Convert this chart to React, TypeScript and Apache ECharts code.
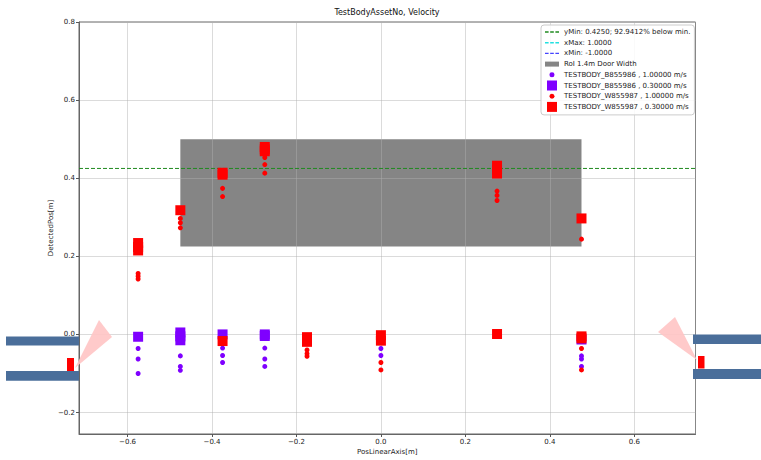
import React, { useEffect, useRef } from "react";
import * as echarts from "echarts";

const FONT = "DejaVu Sans";

// axis ranges
const xRange: [number, number] = [-0.715, 0.745];
const yRange: [number, number] = [-0.255, 0.8];

// reference lines / region
const yMinLine = 0.425;
const xMaxLine = 1.0;
const xMinLine = -1.0;
const roiX: [number, number] = [-0.475, 0.475];
const roiY: [number, number] = [0.225, 0.5];

// scatter data [pos, detected]
const purpleDots: [number, number][] = [
  [-0.575, -0.036], [-0.575, -0.063], [-0.575, -0.1],
  [-0.475, -0.055], [-0.475, -0.082], [-0.475, -0.092],
  [-0.375, -0.035], [-0.375, -0.054], [-0.375, -0.072],
  [-0.275, -0.035], [-0.275, -0.063], [-0.275, -0.082],
  [0.0, -0.036], [0.0, -0.054],
  [0.475, -0.055], [0.475, -0.063], [0.475, -0.082],
];
const purpleSquares: [number, number][] = [
  [-0.575, -0.006],
  [-0.475, 0.005], [-0.475, -0.005], [-0.475, -0.015],
  [-0.375, 0.0],
  [-0.275, 0.0], [-0.275, -0.004],
  [0.475, -0.013],
];
const redDots: [number, number][] = [
  [-0.575, 0.156], [-0.575, 0.149], [-0.575, 0.142],
  [-0.475, 0.297], [-0.475, 0.286], [-0.475, 0.273],
  [-0.375, 0.374], [-0.375, 0.353],
  [-0.275, 0.453], [-0.275, 0.435], [-0.275, 0.413],
  [-0.175, -0.04], [-0.175, -0.049], [-0.175, -0.056],
  [0.0, -0.072], [0.0, -0.091],
  [0.275, 0.367], [0.275, 0.356], [0.275, 0.343],
  [0.475, 0.244], [0.475, -0.036], [0.475, -0.091],
];
const redSquares: [number, number][] = [
  [-0.575, 0.234], [-0.575, 0.224], [-0.575, 0.215],
  [-0.475, 0.318],
  [-0.375, 0.414], [-0.375, 0.409], [-0.375, -0.017],
  [-0.275, 0.48], [-0.275, 0.474], [-0.275, 0.469],
  [-0.175, -0.007], [-0.175, -0.019],
  [0.0, -0.002], [0.0, -0.016],
  [0.275, 0.432], [0.275, 0.422], [0.275, 0.412], [0.275, 0.001],
  [0.475, 0.297], [0.475, -0.005], [0.475, -0.01],
];

const legendNames = [
  "yMin: 0.4250; 92.9412% below min.",
  "xMax: 1.0000",
  "xMin: -1.0000",
  "RoI 1.4m Door Width",
  "TESTBODY_B855986 , 1.00000 m/s",
  "TESTBODY_B855986 , 0.30000 m/s",
  "TESTBODY_W855987 , 1.00000 m/s",
  "TESTBODY_W855987 , 0.30000 m/s",
];

const titleText = "TestBodyAssetNo, Velocity";
const xName = "PosLinearAxis[m]";
const yName = "DetectedPos[m]";

const GREEN = "#1f8a1f";
const CYAN = "#22e0e0";
const BLUE = "#4444ff";
const GRAY = "#858585";
const PURPLE = "#7f00ff";
const RED = "#ff0000";

const ICON_DASH = "path://M0 0M14 10M0 4.3H3.6V5.7H0ZM5.2 4.3H8.8V5.7H5.2ZM10.4 4.3H14V5.7H10.4Z";
const ICON_PATCH = "path://M0 0M14 10M0 2.5H14V7.5H0Z";
const ICON_DOT = "path://M0 0M14 10M4.5 5A2.5 2.5 0 1 0 9.5 5A2.5 2.5 0 1 0 4.5 5Z";
const ICON_SQUARE = "path://M0 0M14 10M2 0H12V10H2Z";
const legendIcons = [ICON_DASH, ICON_DASH, ICON_DASH, ICON_PATCH, ICON_DOT, ICON_SQUARE, ICON_DOT, ICON_SQUARE];

const fmt = (v: number) => (v < 0 ? "\u2212" + Math.abs(v).toFixed(1) : v.toFixed(1));

export default function App() {
  const ref = useRef<HTMLDivElement>(null);
  useEffect(() => {
    if (!ref.current) return;
    const chart = echarts.init(ref.current, null, { renderer: "svg" });
    const axisCommon = {
      z: 2,
      axisLine: { show: true, onZero: false, lineStyle: { color: "#666", width: 1 } },
      axisTick: { show: true, length: 3, lineStyle: { color: "#555", width: 1 } },
      splitLine: { show: true, lineStyle: { color: "rgba(176,176,176,0.45)", width: 1 } },
      axisLabel: {
        fontSize: 7, fontFamily: FONT, color: "#222", margin: 4,
        showMinLabel: false, showMaxLabel: false, formatter: fmt,
      },
      nameTextStyle: { fontSize: 7, fontFamily: FONT, color: "#222" },
      nameLocation: "middle" as const,
      nameMoveOverlap: false,
    };
    const option: any = {
      animation: false,
      backgroundColor: "#fff",
      textStyle: { fontFamily: FONT },
      title: {
        text: titleText, left: 387, top: 8, textAlign: "center", padding: 0,
        textStyle: { fontSize: 8, fontWeight: "normal", fontFamily: FONT, color: "#111" },
      },
      grid: {
        left: 79, top: 22, right: 761 - 695.5, bottom: 22,
        show: true, borderColor: "#666", borderWidth: 1, backgroundColor: "transparent",
      },
      xAxis: {
        ...axisCommon, type: "value", min: xRange[0], max: xRange[1], splitNumber: 7,
        name: xName, nameGap: 14,
      },
      yAxis: {
        ...axisCommon, type: "value", min: yRange[0], max: yRange[1], splitNumber: 5,
        name: yName, nameGap: 25,
        axisLabel: { ...axisCommon.axisLabel, showMaxLabel: true },
      },
      legend: {
        orient: "vertical", left: 541, top: 25, padding: [2, 4, 3, 4],
        itemWidth: 14, itemHeight: 10, itemGap: 0.7,
        borderColor: "#cccccc", borderWidth: 1, borderRadius: 3,
        backgroundColor: "rgba(255,255,255,0.85)",
        textStyle: { fontSize: 7, fontFamily: FONT, color: "#222" },
        itemStyle: { borderWidth: 0, opacity: 1 },
        selectedMode: false,
        data: legendNames.map((name, i) => ({ name, icon: legendIcons[i] })),
      },
      series: [
        {
          name: legendNames[0], type: "line", z: 3, showSymbol: false, color: GREEN,
          itemStyle: { color: GREEN },
          lineStyle: { color: GREEN, width: 1, type: [4, 2] },
          data: [[xRange[0], yMinLine], [xRange[1], yMinLine]],
        },
        {
          name: legendNames[1], type: "line", z: 3, showSymbol: false, clip: true, color: CYAN,
          itemStyle: { color: CYAN },
          lineStyle: { color: CYAN, width: 1, type: [4, 2] },
          data: [[xMaxLine, yRange[0]], [xMaxLine, yRange[1]]],
        },
        {
          name: legendNames[2], type: "line", z: 3, showSymbol: false, clip: true, color: BLUE,
          itemStyle: { color: BLUE },
          lineStyle: { color: BLUE, width: 1, type: [4, 2] },
          data: [[xMinLine, yRange[0]], [xMinLine, yRange[1]]],
        },
        {
          name: legendNames[3], type: "custom", z: 1, color: GRAY,
          itemStyle: { color: GRAY },
          encode: { x: [0, 2], y: [1, 3] },
          data: [[roiX[0], roiY[0], roiX[1], roiY[1]]],
          renderItem: (params: any, api: any) => {
            const p0 = api.coord([api.value(0), api.value(3)]);
            const p1 = api.coord([api.value(2), api.value(1)]);
            return {
              type: "rect",
              shape: { x: p0[0], y: p0[1], width: p1[0] - p0[0], height: p1[1] - p0[1] },
              style: { fill: GRAY },
            };
          },
        },
        {
          name: legendNames[4], type: "scatter", z: 4, symbol: "circle", symbolSize: 5,
          color: PURPLE, itemStyle: { color: PURPLE, opacity: 1 }, data: purpleDots,
        },
        {
          name: legendNames[5], type: "scatter", z: 4, symbol: "rect", symbolSize: 10,
          color: PURPLE, itemStyle: { color: PURPLE, opacity: 1 }, data: purpleSquares,
        },
        {
          name: legendNames[6], type: "scatter", z: 4, symbol: "circle", symbolSize: 5,
          color: RED, itemStyle: { color: RED, opacity: 1 }, data: redDots,
        },
        {
          name: legendNames[7], type: "scatter", z: 4, symbol: "rect", symbolSize: 10,
          color: RED, itemStyle: { color: RED, opacity: 1 }, data: redSquares,
        },
      ],
      graphic: [
        // overlay illustration (door sensors)
        { type: "rect", z: 100, shape: { x: 6, y: 336.5, width: 73, height: 9 }, style: { fill: "#4a6e9a" } },
        { type: "rect", z: 100, shape: { x: 6, y: 371, width: 73, height: 9.7 }, style: { fill: "#4a6e9a" } },
        { type: "rect", z: 100, shape: { x: 693, y: 334.5, width: 68, height: 9.5 }, style: { fill: "#4a6e9a" } },
        { type: "rect", z: 100, shape: { x: 693, y: 369, width: 68, height: 10 }, style: { fill: "#4a6e9a" } },
        { type: "polygon", z: 99, shape: { points: [[75, 368], [99, 320], [112, 337]] }, style: { fill: "#ffc4c4", opacity: 0.9 } },
        { type: "polygon", z: 99, shape: { points: [[697, 360], [658, 332], [675, 317]] }, style: { fill: "#ffc4c4", opacity: 0.9 } },
        { type: "rect", z: 101, shape: { x: 67, y: 358, width: 7, height: 13 }, style: { fill: RED } },
        { type: "rect", z: 101, shape: { x: 698, y: 356, width: 6.5, height: 12.5 }, style: { fill: RED } },
      ],
    };
    chart.setOption(option);
    return () => chart.dispose();
  }, []);
  return (
    <div
      ref={ref}
      style={{ position: "fixed", left: 0, top: 0, width: 761, height: 460, background: "#fff" }}
    />
  );
}
